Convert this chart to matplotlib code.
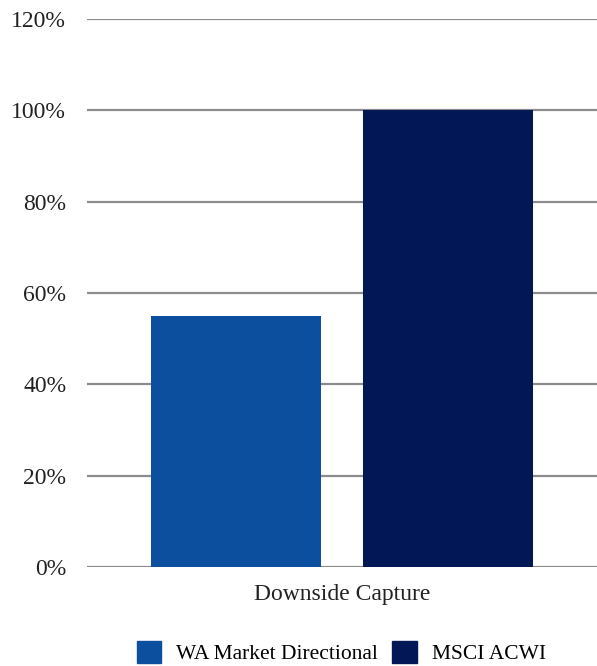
import matplotlib.pyplot as plt
from matplotlib.patches import Patch

category = "Downside Capture"
series = ["WA Market Directional", "MSCI ACWI"]
values = [55, 100]
colors = ["#0B4F9E", "#021856"]
yticks = [0, 20, 40, 60, 80, 100, 120]

plt.rcParams['font.family'] = ['Liberation Serif', 'DejaVu Serif']

fig = plt.figure(figsize=(5.97, 6.66), dpi=100)
ax = fig.add_axes([0.1457, 0.1486, 0.8543, 0.8229])

positions = [0, 1]
ax.bar(positions, values, width=0.8, color=colors, zorder=3)

ax.set_ylim(0, 120)
ax.set_xlim(-0.7, 1.7)
ax.set_yticks(yticks)
ax.set_yticklabels([f"{t}%" for t in yticks], fontsize=17, color="#222222")
ax.set_xticks([0.5])
ax.set_xticklabels([category], fontsize=17, color="#222222")
ax.tick_params(axis='y', length=0, pad=15)
ax.tick_params(axis='x', length=0, pad=12)
ax.grid(axis='y', color='#8c8c8c', linewidth=1.6, zorder=0)
ax.set_axisbelow(True)
for s in ax.spines.values():
    s.set_visible(False)

handles = [Patch(color=c) for c in colors]
fig.legend(handles, series, loc='center', bbox_to_anchor=(0.572, 0.02), ncol=2,
           frameon=False, fontsize=15.5, handlelength=1.15, handleheight=1.15,
           columnspacing=0.65, handletextpad=0.7, borderpad=0.1)

fig.savefig("out.png", dpi=100)
